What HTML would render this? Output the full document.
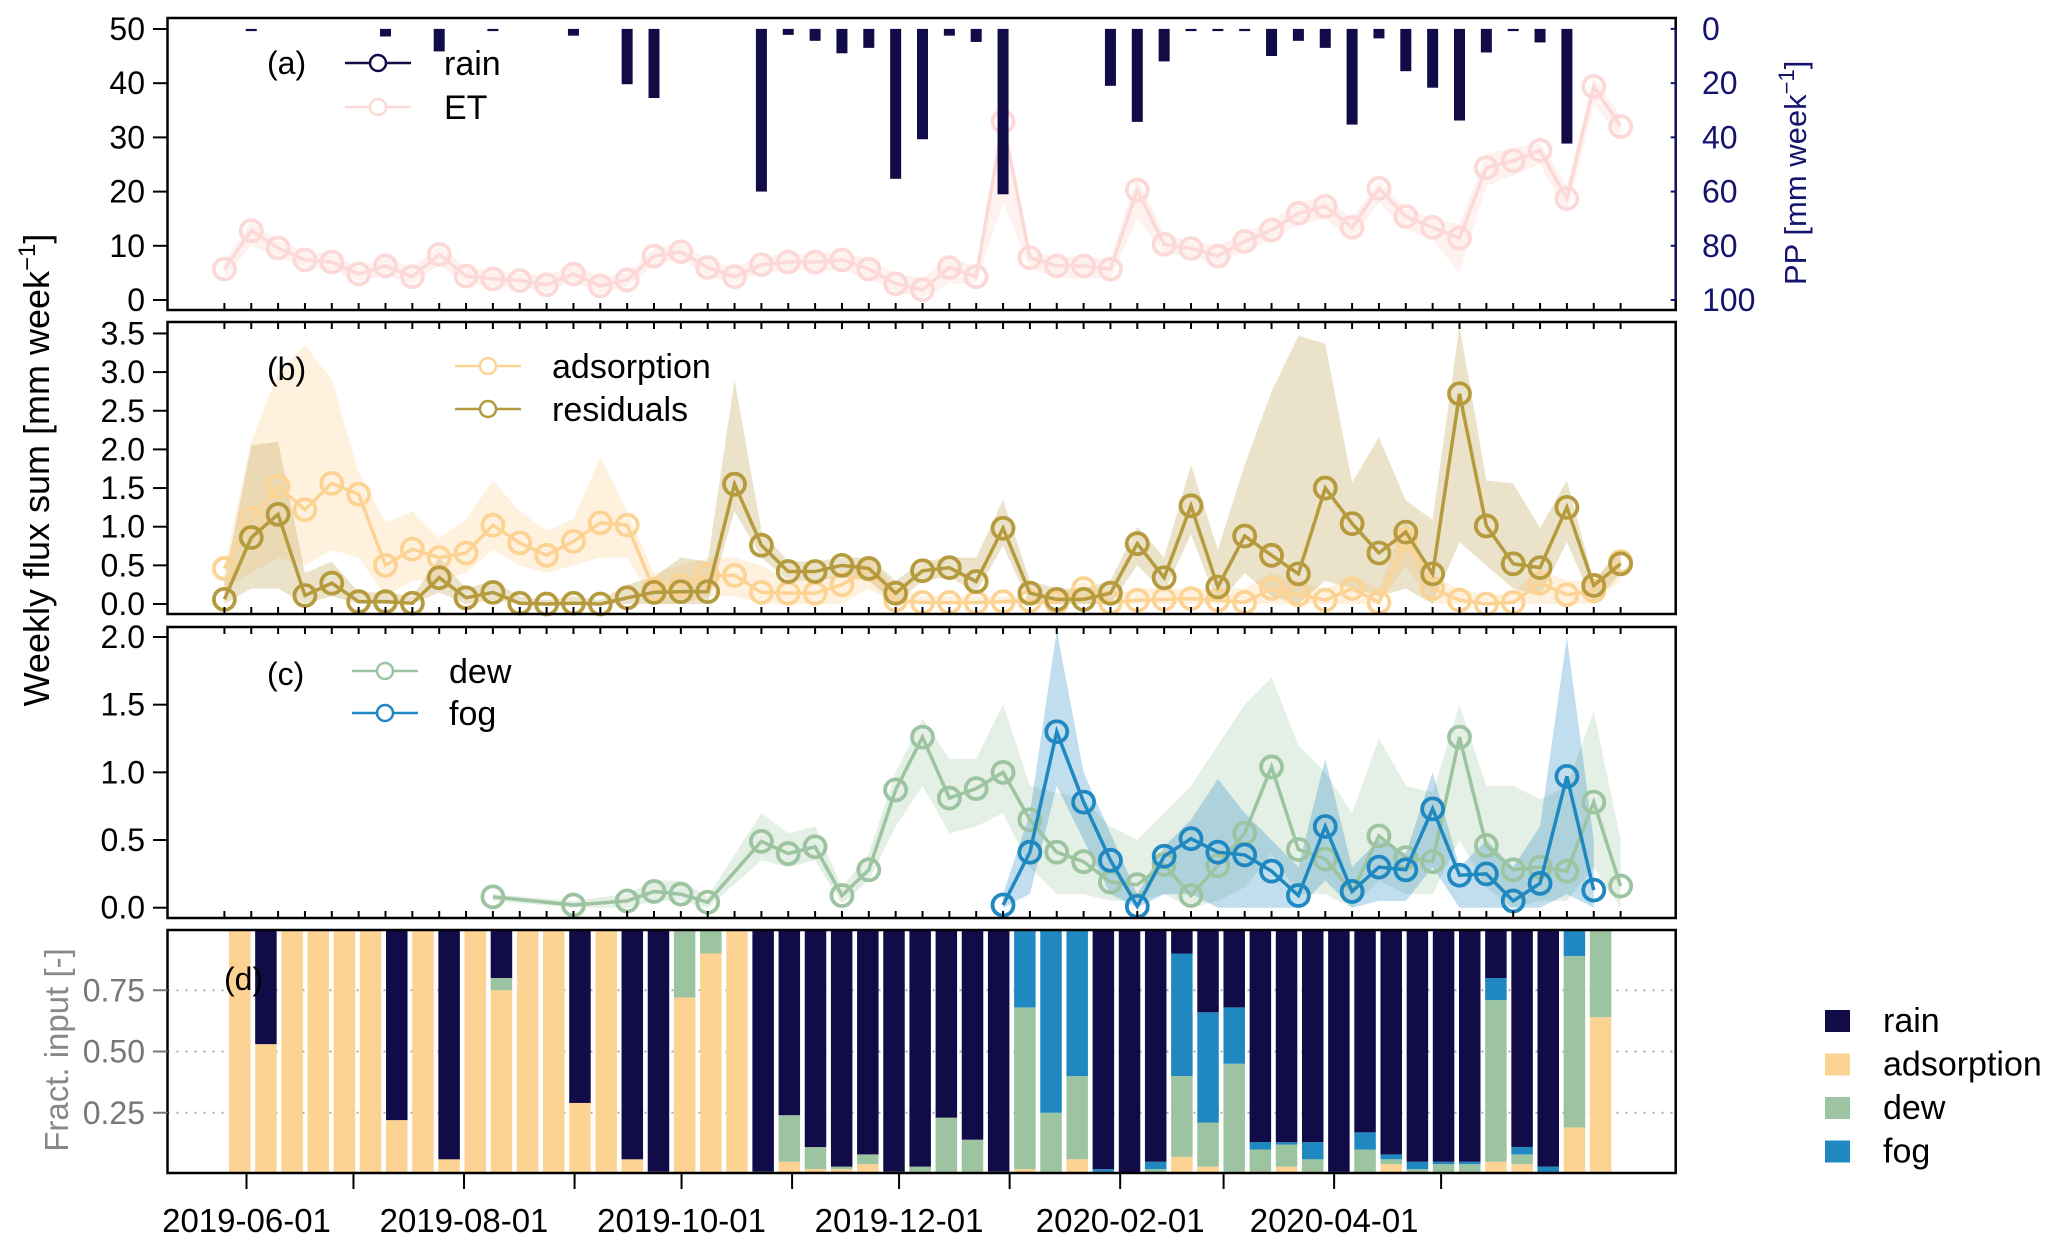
<!DOCTYPE html>
<html><head><meta charset="utf-8">
<style>
html,body{margin:0;padding:0;background:#fff;}
svg{display:block;}
text{font-family:"Liberation Sans Narrow","Liberation Sans",sans-serif;}
.reg{font-family:"Liberation Sans",sans-serif;}
</style></head>
<body>
<svg id="chart" xmlns="http://www.w3.org/2000/svg" width="2067" height="1245" viewBox="0 0 2067 1245"></svg>
<script>
// ---- data ----
const rain = [0,0.5,0,0,0,0,2.8,0,8.3,0,0.5,0,0,2.5,0,20.4,25.5,0,0,0,60,2.2,4.4,9,7,55.3,40.7,2.5,4.8,61,0,0,0,21,34.3,12,0.3,0.5,0.5,10,4.4,7,35.3,3.5,15.6,21.7,33.8,8.7,0.3,5,42.3,0,0];
const et = [5.7,12.8,9.6,7.4,7.0,4.8,6.3,4.3,8.4,4.4,3.9,3.6,2.8,4.8,2.6,3.7,8.1,8.9,6.0,4.3,6.5,7.0,7.0,7.4,5.7,3.0,1.9,6.0,4.3,32.9,7.8,6.3,6.3,5.7,20.3,10.3,9.5,8.1,10.8,12.9,16.0,17.3,13.4,20.6,15.4,13.4,11.4,24.4,25.7,27.6,18.7,39.4,32.0];
const etLo = [4,10,8,6,5.5,3.5,4.5,3,6.5,3,2.5,2.3,1.5,3.5,1.2,2.5,6.5,7.5,4.5,3,5,5.5,5.5,5.5,4,1.5,0.5,3,3,18,6,4,4,4,15,8.5,8,6.5,9,11,14,15,11,18,13,11,5,21,23,25,16,36,30];
const etHi = [7,14.5,11,9,8.5,6,8,6,10,6,5.5,5,4.5,6.5,4.5,5,9.5,10.5,7.5,6,8,8.5,8.5,9,7.5,5,4,8,6,34,9,8,8,7.5,23,12,11,10,12.5,14.5,18,19,15,22,17,15,14,27,28,29,21,41,34];
const ads = [0.46,1.10,1.52,1.22,1.56,1.42,0.50,0.71,0.60,0.66,1.02,0.79,0.63,0.81,1.05,1.02,0.19,0.24,0.37,0.37,0.15,0.14,0.14,0.25,0.45,0.05,0.02,0.02,0.02,0.03,0.04,0.02,0.20,0.02,0.05,0.06,0.07,0.05,0.02,0.20,0.12,0.05,0.20,0.02,0.84,0.20,0.05,0.00,0.02,0.27,0.12,0.17,0.55];
const adsLo = [0.2,0.4,0.6,0.5,0.7,0.6,0.1,0.3,0.3,0.4,0.7,0.5,0.4,0.5,0.6,0.6,0,0,0.1,0.1,0,0,0,0,0.2,0,0,0,0,0,0,0,0,0,0,0,0,0,0,0,0,0,0,0,0.5,0,0,0,0,0,0,0,0.3];
const adsHi = [0.5,2.1,3.0,3.35,2.9,1.7,1.05,1.2,0.85,1.1,1.6,1.2,0.95,1.1,1.9,1.2,0.4,0.5,0.6,0.6,0.5,0.3,0.3,0.4,0.6,0.2,0.1,0.1,0.1,0.1,0.1,0.1,0.3,0.1,0.2,0.2,0.2,0.2,0.2,0.4,0.3,0.2,0.35,0.2,1.1,0.35,0.2,0.1,0.15,0.45,0.3,0.3,0.7];
const res = [0.06,0.86,1.16,0.11,0.27,0.03,0.03,0.01,0.34,0.08,0.15,0.01,0,0.01,0,0.08,0.15,0.16,0.16,1.55,0.76,0.42,0.42,0.50,0.46,0.14,0.43,0.47,0.29,0.98,0.14,0.06,0.06,0.14,0.78,0.34,1.27,0.22,0.88,0.63,0.39,1.50,1.04,0.66,0.93,0.39,2.72,1.01,0.52,0.47,1.25,0.24,0.52];
const resLo = [0,0.2,0.2,0,0.1,0,0,0,0.15,0,0.05,0,0,0,0,0,0,0,0,1.2,0.6,0.3,0.3,0.35,0.3,0,0.3,0.35,0.15,0.75,0,0,0,0,0.5,0.15,0.9,0,0.4,0.1,0,0.3,0.2,0.1,0.2,0,0.8,0.5,0.2,0.1,0.8,0,0.4];
const resHi = [0.3,2.05,2.1,0.4,0.55,0.15,0.15,0.1,0.6,0.2,0.3,0.1,0.05,0.1,0.05,0.25,0.35,0.6,0.55,2.9,0.95,0.55,0.55,0.6,0.6,0.3,0.55,0.6,0.6,1.35,0.3,0.2,0.2,0.3,1.0,0.6,1.8,0.7,1.8,2.75,3.47,3.37,1.57,2.16,1.34,1.09,3.6,1.6,1.56,0.98,1.6,0.3,0.7];
const dew = [null,null,null,null,null,null,null,null,null,null,0.08,null,null,0.02,null,0.05,0.12,0.10,0.04,null,0.49,0.40,0.45,0.09,0.28,0.87,1.26,0.81,0.88,1.00,0.65,0.41,0.34,0.19,0.17,0.32,0.09,0.31,0.55,1.04,0.43,0.36,0.12,0.53,0.37,0.34,1.26,0.46,0.28,0.30,0.27,0.78,0.16];
const dewLo = [null,null,null,null,null,null,null,null,null,null,0.05,null,null,0,null,0,0.05,0.05,0,null,0.35,0.3,0.35,0.03,0.2,0.6,0.9,0.55,0.6,0.7,0.3,0.1,0.1,0.05,0.05,0.1,0,0.05,0.15,0.4,0.1,0.1,0,0.2,0.1,0.1,0.5,0.15,0,0.05,0.05,0.3,0];
const dewHi = [null,null,null,null,null,null,null,null,null,null,0.1,null,null,0.05,null,0.1,0.2,0.2,0.08,null,0.7,0.55,0.6,0.15,0.4,1.0,1.4,1.1,1.1,1.5,0.9,0.85,0.8,0.6,0.5,0.7,0.9,1.2,1.5,1.7,1.2,1.0,0.7,1.25,0.9,0.85,1.5,0.9,0.9,0.8,0.9,1.45,0.5];
const fog = [null,null,null,null,null,null,null,null,null,null,null,null,null,null,null,null,null,null,null,null,null,null,null,null,null,null,null,null,null,0.02,0.41,1.30,0.78,0.35,0.01,0.38,0.51,0.41,0.39,0.27,0.09,0.60,0.12,0.30,0.28,0.73,0.24,0.25,0.05,0.18,0.97,0.13,null];
const fogLo = [null,null,null,null,null,null,null,null,null,null,null,null,null,null,null,null,null,null,null,null,null,null,null,null,null,null,null,null,null,0,0.1,0.9,0.5,0.1,0,0.1,0.1,0,0,0,0,0.2,0,0.05,0.05,0.3,0,0,0,0,0.1,0,null];
const fogHi = [null,null,null,null,null,null,null,null,null,null,null,null,null,null,null,null,null,null,null,null,null,null,null,null,null,null,null,null,null,0.1,0.7,2.05,1.0,0.55,0.1,0.45,0.65,0.95,0.7,0.5,0.3,1.1,0.3,0.5,0.4,1.0,0.3,0.5,0.3,0.6,2.0,0.5,null];
const fAds = [1,0.53,1,1,1,1,0.22,1,0.06,1,0.75,1,1,0.29,1,0.06,0,0.72,0.9,1,0,0.05,0.02,0.02,0.04,0,0,0,0,0,0.02,0,0.06,0,0,0,0.07,0.03,0.01,0.01,0.03,0.01,0,0,0.04,0.01,0,0,0.05,0.04,0,0.19,0.64];
const fDew = [0,0,0,0,0,0,0,0,0,0,0.05,0,0,0,0,0,0.01,0.28,0.1,0,0.01,0.19,0.09,0.01,0.04,0.01,0.03,0.23,0.14,0.01,0.66,0.25,0.34,0.01,0,0.02,0.33,0.18,0.44,0.09,0.09,0.05,0,0.10,0.02,0.01,0.04,0.04,0.66,0.04,0,0.70,0.36];
const fFog = [0,0,0,0,0,0,0,0,0,0,0,0,0,0,0,0,0,0,0,0,0,0,0,0,0,0,0,0,0,0,0.32,0.75,0.60,0.01,0,0.03,0.50,0.45,0.23,0.03,0.01,0.07,0.01,0.07,0.02,0.03,0.01,0.01,0.09,0.03,0.03,0.11,0];
const fRain = [0,0.47,0,0,0,0,0.78,0,0.94,0,0.20,0,0,0.71,0,0.94,0.99,0,0,0,0.99,0.76,0.89,0.97,0.92,0.99,0.97,0.77,0.86,0.99,0,0,0,0.98,1,0.95,0.10,0.34,0.32,0.87,0.87,0.87,0.99,0.83,0.92,0.95,0.95,0.95,0.20,0.89,0.97,0,0];
const dateTicks = ["2019-06-01","2019-07-01","2019-08-01","2019-09-01","2019-10-01","2019-11-01","2019-12-01","2020-01-01","2020-02-01","2020-03-01","2020-04-01","2020-05-01"];
const dateLabels = ["2019-06-01","2019-08-01","2019-10-01","2019-12-01","2020-02-01","2020-04-01"];
const ticksA = [0,10,20,30,40,50];
const ticksPP = [0,20,40,60,80,100];
const ticksB = [0,0.5,1,1.5,2,2.5,3,3.5];
const ticksC = [0,0.5,1,1.5,2];
const ticksD = [0.25,0.5,0.75];

// ---- scales ----
const NS="http://www.w3.org/2000/svg";
const svg=document.getElementById('chart');
const L=167.5,R=1675.7;
const xi=i=>224.4+26.85*i;
const xb=k=>229+26.17*k;
const yA=v=>300-5.42*v;
const yPP=v=>28.9+2.711*v;
const yB=v=>604-77.3*v;
const yC=v=>907.7-135.35*v;
const yD=f=>1174-245*f;
const day0=Date.UTC(2019,5,1);
const xDate=s=>{const p=s.split('-');return 246.5+3.566*(Date.UTC(+p[0],+p[1]-1,+p[2])-day0)/86400000;};
const C={rain:'#110c48',ads:'#fdd394',dew:'#9dc4a0',fog:'#2088c1',res:'#b69b3e',et:'#fcd9d6'};

function el(tag,attrs,parent){const e=document.createElementNS(NS,tag);for(const k in attrs)e.setAttribute(k,attrs[k]);(parent||svg).appendChild(e);return e;}
function txt(s,x,y,attrs,parent){const t=el('text',Object.assign({x:x,y:y},attrs),parent);t.textContent=s;return t;}

function band(lo,hi,ys,color,name){
  const s=[];
  for(let i=0;i<lo.length;i++){if(lo[i]!=null&&hi[i]!=null)s.push(i);}
  if(!s.length)return;
  const pts=s.map(i=>xi(i)+','+ys(hi[i])).concat(s.slice().reverse().map(i=>xi(i)+','+ys(lo[i])));
  const p=el('polygon',{points:pts.join(' '),fill:color});
  
  
}
function series(vals,ys,color,name){
  const g=el('g',{});
  
  
  let d='',pen=false;
  vals.forEach((v,i)=>{if(v==null)return;d+=(pen?'L':'M')+xi(i)+' '+ys(v)+' ';pen=true;});
  el('path',{d:d,fill:'none',stroke:color,'stroke-width':3.5},g);
  vals.forEach((v,i)=>{if(v==null)return;
    const c=el('circle',{cx:xi(i),cy:ys(v),r:10.5,fill:'none',stroke:color,'stroke-width':3.8},g);
    
    
  });
}
function frame(y1,y2,name){
  const r=el('rect',{x:L,y:y1,width:R-L,height:y2-y1,fill:'none',stroke:'#000','stroke-width':2.5});
  
  
}
function innerTicks(y,dir){for(let i=0;i<53;i++)el('line',{x1:xi(i),x2:xi(i),y1:y,y2:y+dir*7,stroke:'#000','stroke-width':2});}
function leftAxis(ticks,ys,fmt,color,name){
  const g=el('g',{});
  
  
  ticks.forEach(t=>{el('line',{x1:153,x2:L,y1:ys(t),y2:ys(t),stroke:color,'stroke-width':2},g);
    txt(fmt(t),145,ys(t)+11,{'font-size':32,'text-anchor':'end',fill:color},g);});
  el('line',{x1:L,x2:L,y1:ys(ticks[0]),y2:ys(ticks[ticks.length-1]),stroke:color,'stroke-width':2},g);
}
function legendLine(x,y,color,label,lx,name){
  const g=el('g',{});
  
  
  el('line',{x1:x,x2:x+66,y1:y,y2:y,stroke:color,'stroke-width':2.5},g);
  el('circle',{cx:x+33,cy:y,r:8,fill:'#fff',stroke:color,'stroke-width':2.5},g);
  txt(label,lx,y+12,{'font-size':34,fill:'#000'},g);
}

// ---- Panel A ----
band(etLo,etHi,yA,'rgba(252,217,214,0.35)','et-band');
series(et,yA,C.et,'et');
rain.forEach((v,i)=>{if(v<=0)return;
  const r=el('rect',{x:xi(i)-5.5,y:yPP(0),width:11,height:Math.max(2.2,yPP(v)-yPP(0)),fill:C.rain});
  
  
});
frame(18,310,'panel-a-frame');
innerTicks(310,-1);
leftAxis(ticksA,yA,t=>String(t),'#000','panel-a-y-axis');
(function(){const g=el('g',{});
  el('line',{x1:R,x2:R,y1:yPP(0),y2:yPP(100),stroke:'#14146e','stroke-width':2},g);
  ticksPP.forEach(t=>{el('line',{x1:R,x2:R-5,y1:yPP(t),y2:yPP(t),stroke:'#14146e','stroke-width':2},g);
    txt(String(t),1702,yPP(t)+11,{'font-size':32,fill:'#14146e'},g);});
})();
txt('PP [mm week',0,0,{'font-size':31,fill:'#14146e',transform:'translate(1806,285) rotate(-90)',class:'reg'}).innerHTML='PP [mm week<tspan dy="-12" font-size="22">−1</tspan><tspan dy="12">]</tspan>';
txt('(a)',267,74,{'font-size':32});
legendLine(345,63,C.rain,'rain',444,'legend-rain');
legendLine(345,107,C.et,'ET',444,'legend-et');

// ---- Panel B ----
band(adsLo,adsHi,yB,'rgba(253,211,148,0.3)','adsorption-band');
band(resLo,resHi,yB,'rgba(182,155,62,0.28)','residuals-band');
series(ads,yB,C.ads,'adsorption');
series(res,yB,C.res,'residuals');
frame(322,614,'panel-b-frame');
innerTicks(322,1);innerTicks(614,-1);
leftAxis(ticksB,yB,t=>t.toFixed(1),'#000','panel-b-y-axis');
txt('(b)',267,380,{'font-size':32});
legendLine(455,366,C.ads,'adsorption',552,'legend-adsorption');
legendLine(455,409,C.res,'residuals',552,'legend-residuals');

// ---- Panel C ----
band(dewLo,dewHi,yC,'rgba(157,196,160,0.28)','dew-band');
band(fogLo,fogHi,yC,'rgba(32,136,193,0.28)','fog-band');
series(dew,yC,C.dew,'dew');
series(fog,yC,C.fog,'fog');
frame(627,918,'panel-c-frame');
innerTicks(627,1);innerTicks(918,-1);
leftAxis(ticksC,yC,t=>t.toFixed(1),'#000','panel-c-y-axis');
txt('(c)',267,685,{'font-size':32});
legendLine(352,671,C.dew,'dew',449,'legend-dew');
legendLine(352,713,C.fog,'fog',449,'legend-fog');

// ---- Panel D ----
ticksD.forEach(t=>el('line',{x1:L,x2:R,y1:yD(t),y2:yD(t),stroke:'#aaa','stroke-width':2,'stroke-dasharray':'2,7'}));
for(let k=0;k<fAds.length;k++){
  let base=0;
  [[fAds,C.ads,'adsorption'],[fDew,C.dew,'dew'],[fFog,C.fog,'fog'],[fRain,C.rain,'rain']].forEach(([arr,col,nm])=>{
    const v=arr[k];if(v<=0)return;
    const r=el('rect',{x:xb(k),y:yD(base+v),width:21.5,height:yD(base)-yD(base+v),fill:col});
    
    
    base+=v;
  });
}
frame(930,1173,'panel-d-frame');
(function(){const g=el('g',{});
  ticksD.forEach(t=>{el('line',{x1:153,x2:L,y1:yD(t),y2:yD(t),stroke:'#777','stroke-width':2},g);
    txt(t.toFixed(2),145,yD(t)+11,{'font-size':32,'text-anchor':'end',fill:'#777'},g);});
})();
txt('(d)',224,990,{'font-size':32});
(function(){const g=el('g',{});
  dateTicks.forEach(s=>el('line',{x1:xDate(s),x2:xDate(s),y1:1173,y2:1189,stroke:'#000','stroke-width':2},g));
  dateLabels.forEach(s=>txt(s,xDate(s),1232,{'font-size':33,'text-anchor':'middle'},g));
})();
// legend D
[['rain',C.rain],['adsorption',C.ads],['dew',C.dew],['fog',C.fog]].forEach((e,j)=>{
  const g=el('g',{});
  
  
  const y=1010+j*43.5;
  el('rect',{x:1825,y:y,width:25,height:22,fill:e[1]},g);
  txt(e[0],1883,y+22,{'font-size':34},g);
});

// axis titles
const yt=txt('',0,0,{'font-size':36,transform:'translate(49,470) rotate(-90)','text-anchor':'middle',class:'reg'});
yt.innerHTML='Weekly flux sum [mm week<tspan dy="-14" font-size="24">−1</tspan><tspan dy="14">]</tspan>';


const ft=txt('Fract. input [-]',0,0,{'font-size':33,fill:'#888',transform:'translate(68,1050) rotate(-90)','text-anchor':'middle',class:'reg'});


</script>
</body></html>
